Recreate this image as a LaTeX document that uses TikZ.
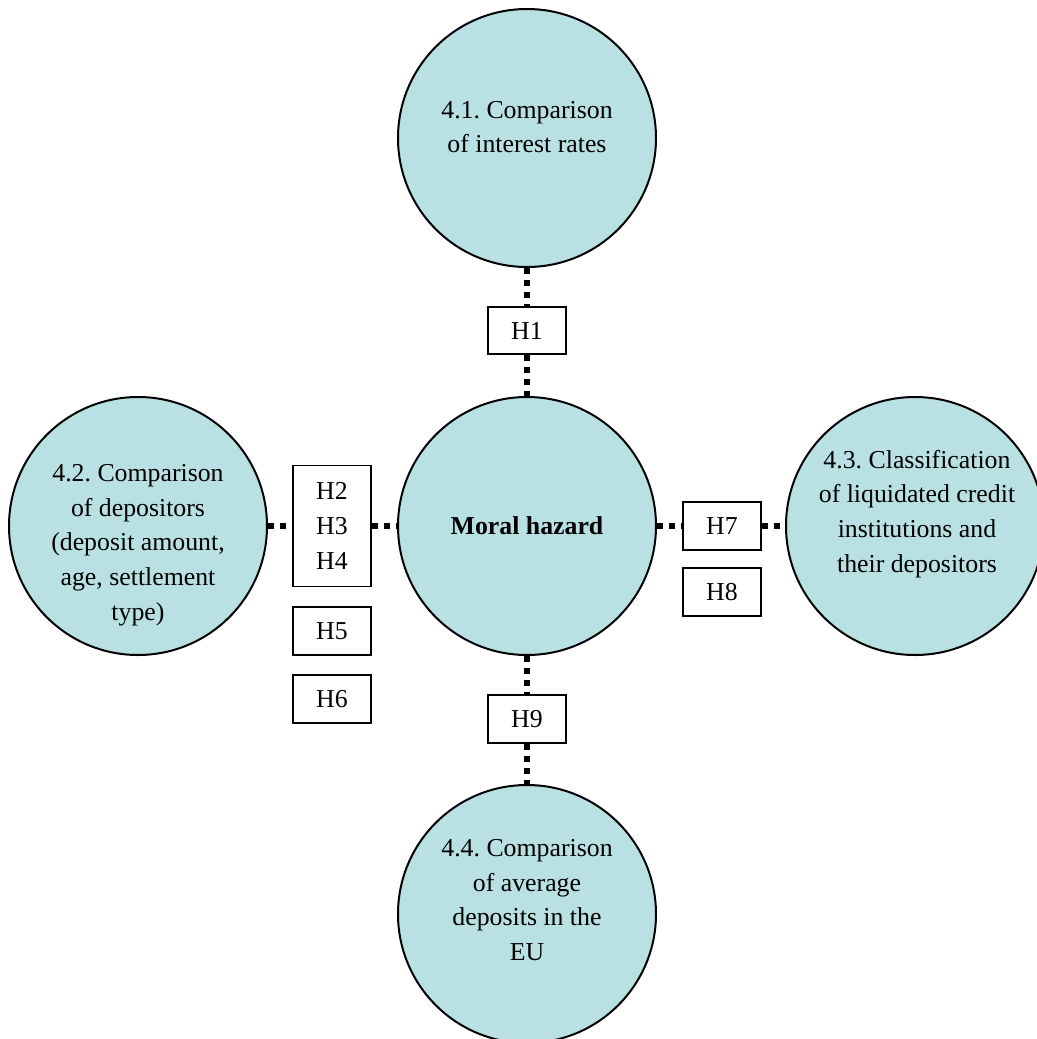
\documentclass[tikz,border=0pt]{standalone}
\usepackage{fontspec}
\setmainfont{Liberation Serif}
\frenchspacing
\definecolor{circfill}{RGB}{185,224,227}
\tikzset{
  topic/.style={
    circle,
    draw=black, line width=1pt,
    fill=circfill,
    minimum size=129pt,
    inner sep=0pt},
  topictext/.style={
    align=center,
    font=\fontsize{12.9}{17.35}\selectfont},
  hbox/.style={
    rectangle,
    draw=black, line width=0.9pt,
    fill=white,
    minimum width=39pt,
    inner sep=0pt,
    align=center,
    font=\fontsize{12.9}{17.35}\selectfont},
  dotline/.style={draw, line width=3pt, dash pattern=on 3pt off 3pt},
}
\begin{document}
\begin{tikzpicture}[x=0.5pt, y=-0.5pt]
\useasboundingbox (0,0) rectangle (1037,1039);
\clip (0,0) rectangle (1037,1039);
% circles
\node[topic] (mh)  at (527,526) {};
\node[topic] (c41) at (527,138) {};
\node[topic] (c42) at (138,526) {};
\node[topic] (c43) at (915,526) {};
\node[topic] (c44) at (527,914) {};
\node[topictext] (t41) at (527,127) {4.1. Comparison\\of interest rates};
\node[topictext] (t42) at (138,545) {4.2. Comparison\\of depositors\\(deposit amount,\\age, settlement\\type)};
\node[topictext] (t43) at (917,514) {4.3. Classification\\of liquidated credit\\institutions and\\their depositors};
\node[topictext] (t44) at (527,900) {4.4. Comparison\\of average\\deposits in the\\EU};
\node[topictext] (tmh) at (527,526) {\textbf{Moral hazard}};
% hypothesis boxes
\foreach \n/\x/\y/\h/\txt in {h1/527/330.5/23.5/H1, h234/332/526/60.5/H2\\H3\\H4, h5/332/631/24/H5,
    h6/332/699/24/H6, h7/722/526/24/H7, h8/722/592/24/H8, h9/527/719/24/H9}{
    \node[hbox, minimum height=\h pt] (\n) at (\x,\y) {\txt};
    }
% dotted connectors
\path[dotline] (c41) -- (h1);
\path[dotline] (h1) -- (mh);
\path[dotline] (c42) -- (h234);
\path[dotline] (h234) -- (mh);
\path[dotline] (mh) -- (h7);
\path[dotline] (h7) -- (c43);
\path[dotline] (mh) -- (h9);
\path[dotline] (h9) -- (c44);
\end{tikzpicture}
\end{document}
